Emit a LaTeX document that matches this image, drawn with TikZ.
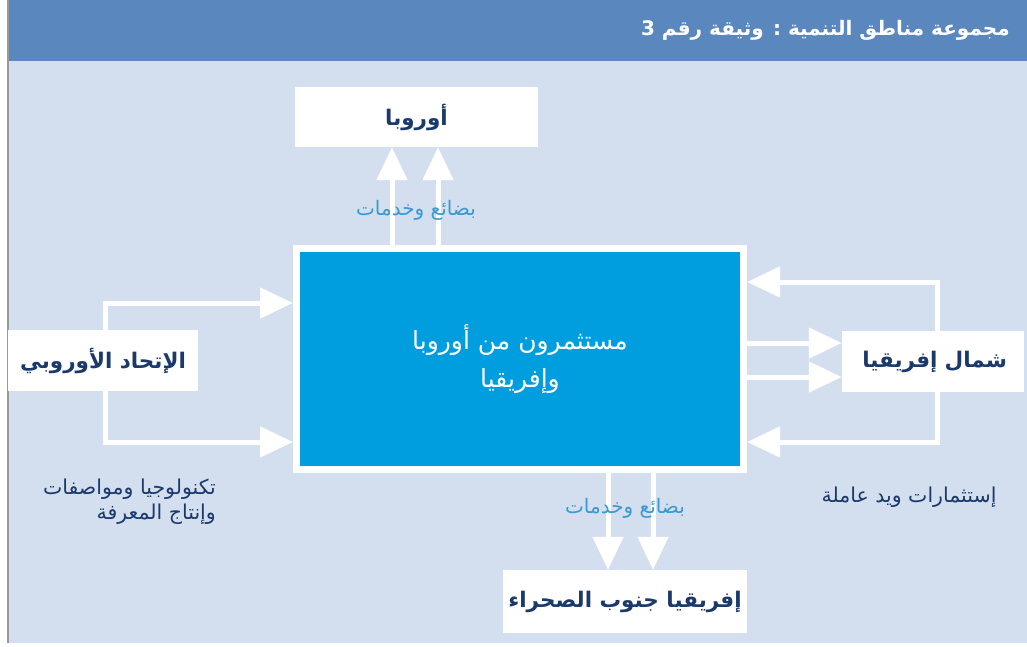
\documentclass[tikz,border=0pt]{standalone}
\usepackage{fontspec}
\usetikzlibrary{arrows.meta,calc}
\TeXXeTstate=1
\newfontfamily\arabicfont[Script=Arabic]{DejaVu Sans}
\definecolor{bgblue}{HTML}{D3DEEF}
\definecolor{headblue}{HTML}{5A87BD}
\definecolor{coreblue}{HTML}{009DDF}
\definecolor{navy}{HTML}{1B3A6B}
\definecolor{lblue}{HTML}{3A9AD0}
\tikzset{
  whitebox/.style={fill=white, draw=none, inner sep=0pt, minimum height=#1, text=navy, font=\arabicfont\bfseries\fontsize{21.5}{24}\selectfont},
  flow/.style={draw=white, line width=5pt, -{Triangle[width=30pt,length=33pt]}},
  lab/.style={text=lblue, font=\arabicfont\fontsize{20}{24}\selectfont, inner sep=0pt},
  note/.style={text=navy, font=\arabicfont\fontsize{20.5}{25}\selectfont, inner sep=0pt, align=right}
}
\begin{document}
\begin{tikzpicture}[x=1pt,y=-1pt]
\useasboundingbox (0,0) rectangle (1027,646);
\fill[white] (0,0) rectangle (1027,646);
\fill[bgblue] (8,0) rectangle (1027,643);
\fill[headblue] (8,0) rectangle (1027,61);
\fill[gray!80] (7,0) rectangle (9,643);
\node[anchor=east, text=white, font=\arabicfont\bfseries\fontsize{20}{22}\selectfont, inner sep=0pt] (title) at (1010,30) {\beginR مجموعة مناطق التنمية : وثيقة رقم 3\endR};

% central box
\node[fill=coreblue, draw=white, line width=7pt, minimum width=447pt, minimum height=221pt, inner sep=0pt, text=white, align=center, font=\arabicfont\fontsize{25}{38}\selectfont] (core) at (520,359) {\beginR مستثمرون من أوروبا\endR\\\beginR وإفريقيا\endR};

\node[whitebox=60pt, minimum width=243pt] (eur) at (416.5,117) {\beginR أوروبا\endR};
\node[whitebox=61pt, minimum width=190pt] (eu) at (103,360.5) {\beginR الإتحاد الأوروبي\endR};
\node[whitebox=61pt, minimum width=182pt, text width=148pt, align=right] (na) at (933,361.5) {\beginR شمال إفريقيا\endR};
\node[whitebox=63pt, minimum width=244pt] (ssa) at (625,601.5) {\beginR إفريقيا جنوب الصحراء\endR};

% coordinates
\coordinate (u1) at (392,0);
\coordinate (u2) at (438,0);
\coordinate (d1) at (608,0);
\coordinate (d2) at (653,0);
\coordinate (lx) at (105,0);
\coordinate (rx) at (937,0);
\coordinate (ltop) at (0,303);
\coordinate (lbot) at (0,442);
\coordinate (rtop) at (0,282);
\coordinate (rbot) at (0,442);
\coordinate (m1) at (0,343);
\coordinate (m2) at (0,377);

% arrows to Europe
\draw[flow] (core.north -| u1) -- (eur.south -| u1);
\draw[flow] (core.north -| u2) -- (eur.south -| u2);
% arrows to sub-Saharan Africa
\draw[flow] (core.south -| d1) -- (ssa.north -| d1);
\draw[flow] (core.south -| d2) -- (ssa.north -| d2);
% EU to core
\draw[flow] (eu.north -| lx) |- (core.west |- ltop);
\draw[flow] (eu.south -| lx) |- (core.west |- lbot);
% North Africa to core
\draw[flow] (na.north -| rx) |- (core.east |- rtop);
\draw[flow] (na.south -| rx) |- (core.east |- rbot);
% core to North Africa
\draw[flow] (core.east |- m1) -- (na.west |- m1);
\draw[flow] (core.east |- m2) -- (na.west |- m2);

% labels
\node[lab] (l1) at (416,210) {\beginR بضائع وخدمات\endR};
\node[lab] (l2) at (625,508) {\beginR بضائع وخدمات\endR};
\node[note, anchor=east] (n1) at (216,502) {\beginR تكنولوجيا ومواصفات\endR\\\beginR وإنتاج المعرفة\endR};
\node[note] (n2) at (909,497) {\beginR إستثمارات ويد عاملة\endR};
\end{tikzpicture}
\end{document}
